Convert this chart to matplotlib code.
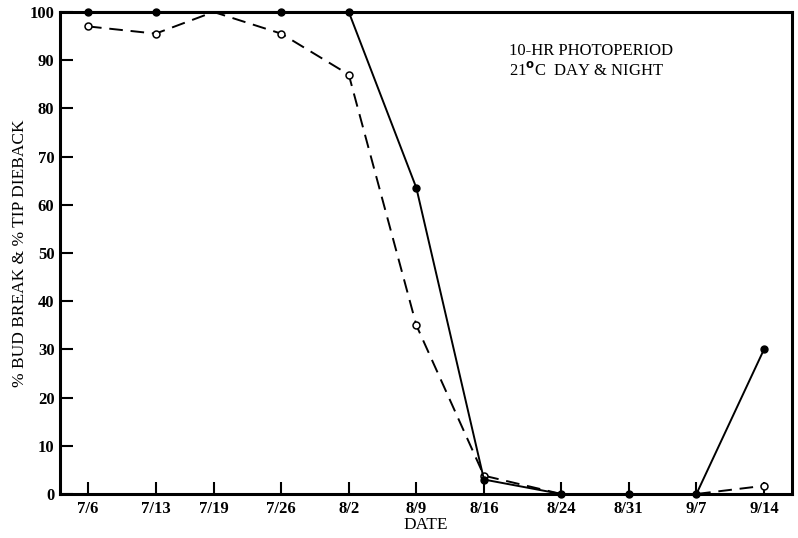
import matplotlib
matplotlib.use("Agg")
import matplotlib.pyplot as plt

# sampling dates and day offsets from 7/6
dates = ["7/6", "7/13", "7/19", "7/26", "8/2", "8/9", "8/16", "8/24", "8/31", "9/7", "9/14"]
days = [0, 7, 13, 20, 27, 34, 41, 49, 56, 63, 70]

# solid line with filled dots
bud_break = [100, 100, 100, 100, 100, 63.5, 3, 0, 0, 0, 30]
# dashed line with open circles
tip_dieback = [97, 95.5, 100, 95.5, 87, 35, 3.8, 0, 0, 0, 1.7]

plt.rcParams["font.family"] = ["Liberation Serif", "DejaVu Serif"]

fig = plt.figure(figsize=(7.98, 5.38), dpi=100)
ax = fig.add_axes([0.0752, 0.0818, 0.9173, 0.896])

ax.plot(days, bud_break, color="black", lw=1.4, marker="o", ms=5,
        mfc="black", mec="black", clip_on=False, zorder=4,
        markevery=[0, 1, 3, 4, 5, 6, 7, 8, 9, 10])
ax.plot(days, tip_dieback, color="black", lw=1.4, ls=(0, (7, 4)), marker="o",
        ms=5, mfc="white", mec="black", mew=1.1, clip_on=False, zorder=3,
        markevery=[0, 1, 3, 4, 5, 6, 10])

ax.set_xlim(-2.9, 72.9)
ax.set_ylim(0, 100)
ax.set_xticks(days)
ax.set_xticklabels(dates)
ax.set_yticks(range(0, 101, 10))

for s in ax.spines.values():
    s.set_linewidth(2.2)

ax.tick_params(direction="in", length=9, width=1.5, labelsize=12)
ax.tick_params(axis="x", pad=5)
ax.tick_params(axis="y", pad=4)
for lab in ax.get_xticklabels() + ax.get_yticklabels():
    lab.set_fontweight("bold")

ax.set_xlabel("DATE", fontsize=12.5, labelpad=0)
ax.set_ylabel("% BUD BREAK & % TIP DIEBACK", fontsize=12.5, labelpad=1)

ax.text(0.613, 0.935, "10-HR PHOTOPERIOD\n21$^{\\mathbf{o}}$C  DAY & NIGHT",
        transform=ax.transAxes, fontsize=12, va="top", ha="left",
        linespacing=1.15)

fig.savefig("out.png", dpi=100)
